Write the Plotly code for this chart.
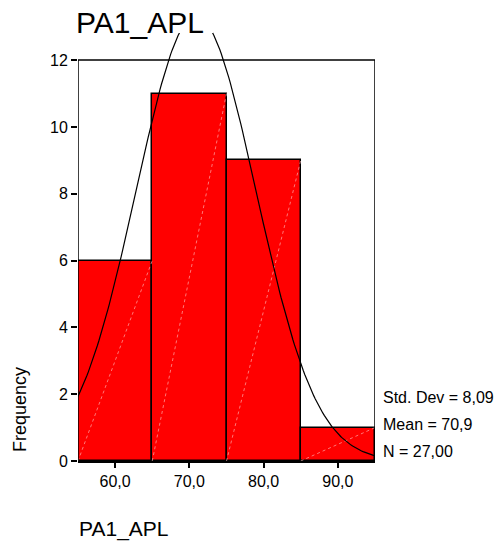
import numpy as np
import plotly.graph_objects as go

# Histogram of PA1_APL (bin width 10)
bin_starts = [55, 65, 75, 85]
bin_width = 10
frequencies = [6, 11, 9, 1]

# Summary statistics shown in the legend text
std_dev = 8.09
mean = 70.9
n_obs = 27

x_ticks = [60, 70, 80, 90]
x_tick_labels = ["60,0", "70,0", "80,0", "90,0"]
y_ticks = [0, 2, 4, 6, 8, 10, 12]

x_min, x_max = 55, 95
y_top = 12

# Pixel geometry of the plotting area
W, H = 501, 548
ML, MR, MT, MB = 78, 126, 10, 87
PW, PH = W - ML - MR, H - MT - MB


def px_x(p):
    return (p - ML) / PW


def px_y(p):
    return 1 - (p - MT) / PH


def comma(v, d):
    return f"{v:.{d}f}".replace(".", ",")


fig = go.Figure()

# Bars
centers = [s + bin_width / 2 for s in bin_starts]
fig.add_trace(go.Bar(
    x=centers, y=frequencies, width=[bin_width] * len(bin_starts),
    marker=dict(color="#FF0000", line=dict(color="black", width=1.5)),
    hoverinfo="skip", showlegend=False,
))

# Faint diagonal from the lower-left to the upper-right corner of each bar
dx, dy = [], []
for s, f in zip(bin_starts, frequencies):
    dx += [s, s + bin_width, None]
    dy += [0, f, None]
fig.add_trace(go.Scatter(
    x=dx, y=dy, mode="lines",
    line=dict(color="rgba(255,190,190,0.9)", width=0.7, dash="dot"),
    hoverinfo="skip", showlegend=False,
))

# Normal curve scaled to counts
xs = np.linspace(x_min, x_max, 200)
ys = n_obs * bin_width / (std_dev * np.sqrt(2 * np.pi)) * np.exp(-0.5 * ((xs - mean) / std_dev) ** 2)
fig.add_trace(go.Scatter(
    x=xs, y=ys, mode="lines", line=dict(color="black", width=1.2),
    hoverinfo="skip", showlegend=False, cliponaxis=False,
))

# Frame: left, top and right borders up to the last tick
for x0, y0, x1, y1 in [(x_min, 0, x_min, y_top), (x_min, y_top, x_max, y_top), (x_max, 0, x_max, y_top)]:
    fig.add_shape(type="line", xref="x", yref="y", x0=x0, y0=y0, x1=x1, y1=y1,
                  line=dict(color="black", width=1.5), layer="above")

# White block behind the title, hiding the curve's peak
fig.add_shape(type="rect", xref="paper", yref="paper",
              x0=px_x(74), x1=px_x(213), y0=px_y(33), y1=px_y(0),
              fillcolor="white", line=dict(width=0), layer="above")

font = "Arial, Liberation Sans, sans-serif"

# Statistics text on the right
stats = [f"Std. Dev = {comma(std_dev, 2)}", f"Mean = {comma(mean, 1)}", f"N = {comma(n_obs, 2)}"]
for txt, yp in zip(stats, [397, 424, 451]):
    fig.add_annotation(text=txt, xref="paper", yref="paper",
                       x=px_x(381), y=px_y(yp),
                       xanchor="left", yanchor="middle", showarrow=False,
                       font=dict(size=16, color="black", family=font))

# Axis titles placed as free text
fig.add_annotation(text="Frequency", xref="paper", yref="paper",
                   x=px_x(20), y=px_y(410), textangle=-90,
                   xanchor="center", yanchor="middle", showarrow=False,
                   font=dict(size=18, color="black", family=font))
fig.add_annotation(text="PA1_APL", xref="paper", yref="paper",
                   x=px_x(77), y=px_y(529),
                   xanchor="left", yanchor="middle", showarrow=False,
                   font=dict(size=21, color="black", family=font))

fig.update_layout(
    width=W, height=H,
    margin=dict(l=ML, r=MR, t=MT, b=MB),
    paper_bgcolor="white", plot_bgcolor="white",
    title=dict(text="PA1_APL", x=76 / W, xanchor="left", y=1 - 22 / H, yanchor="middle",
               font=dict(size=30, color="black", family=font)),
    bargap=0,
    xaxis=dict(range=[x_min, x_max], tickvals=x_ticks, ticktext=x_tick_labels,
               showgrid=False, zeroline=False, showline=True, linecolor="black", linewidth=1.5,
               ticks="outside", ticklen=5, tickcolor="black", tickwidth=1.5,
               tickfont=dict(size=16, color="black", family=font)),
    yaxis=dict(range=[0, 13.5], tickvals=y_ticks, showgrid=False, zeroline=False,
               showline=False, ticks="outside", ticklen=6, tickcolor="black", tickwidth=1.5,
               tickfont=dict(size=16, color="black", family=font)),
)

fig.write_html("out.html")
